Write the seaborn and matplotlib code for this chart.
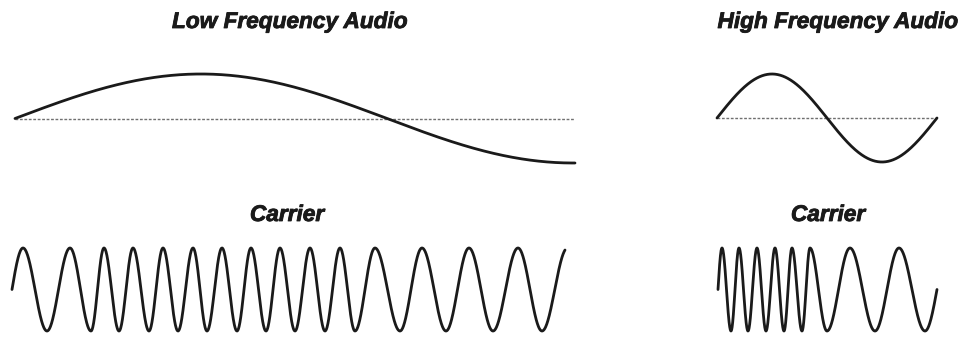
import numpy as np
import pandas as pd
import seaborn as sns
import matplotlib
matplotlib.use("Agg")
import matplotlib.pyplot as plt
import matplotlib.patheffects as pe

# audio signals: one sine each, time in arbitrary units
low_audio_period = 744.0
low_audio_span = 560.0
high_audio_period = 220.0
high_audio_span = 220.0

# carrier extrema times (peak, trough, peak, ...)
left_carrier_extrema = [11, 35, 58, 79, 92, 107, 121, 137, 151, 166, 181, 195, 210, 225, 239,
                        254, 268, 283, 298, 313, 328, 343, 363, 388, 410, 434, 457, 481, 506, 530]
left_carrier_end = 553
left_carrier_end_phase = 0.9   # fraction of half cycle after last extremum

right_carrier_extrema = [4, 13, 21, 30, 39, 48, 57, 66, 74, 84, 92, 109, 132, 157, 181, 207]
right_carrier_end = 219
right_carrier_end_phase = 0.5

titles = ["Low Frequency Audio", "High Frequency Audio", "Carrier", "Carrier"]

W, H = 968, 339
sns.set_style("white")
plt.rcParams["font.family"] = ["Liberation Sans", "DejaVu Sans"]

fig = plt.figure(figsize=(W / 100, H / 100), dpi=100)


def px_axes(x0, x1, ytop, ybot, xlim, ylim=(-1, 1)):
    ax = fig.add_axes([x0 / W, 1 - ybot / H, (x1 - x0) / W, (ybot - ytop) / H])
    ax.set_xlim(*xlim)
    ax.set_ylim(*ylim)
    ax.axis("off")
    return ax


def audio_frame(period, span):
    t = np.linspace(0, span, 600)
    return pd.DataFrame({"t": t, "v": np.sin(2 * np.pi * t / period)})


def carrier_frame(extrema, end, end_phase):
    # phase keyed to extrema: start on the midline rising, peaks at even multiples of pi
    tk = [0] + list(extrema) + [end]
    pk = [-np.pi / 2] + [np.pi * i for i in range(len(extrema))] + [np.pi * (len(extrema) - 1 + end_phase)]
    t = np.linspace(0, end, 2000)
    ph = np.interp(t, tk, pk)
    return pd.DataFrame({"t": t, "v": np.cos(ph)})


line_kw = dict(color="#1a1a1a", linewidth=2.0, clip_on=False)
base_kw = dict(color="#707070", linewidth=1.0, linestyle=(0, (2.0, 1.2)))

# top left: low frequency audio
ax1 = px_axes(15, 575, 74, 163, (0, low_audio_span))
ax1.plot([0, 562], [0, 0], **base_kw)
sns.lineplot(data=audio_frame(low_audio_period, low_audio_span), x="t", y="v", ax=ax1, **line_kw)
ax1.axis("off")

# top right: high frequency audio
ax2 = px_axes(717, 937, 74, 162, (0, high_audio_span))
ax2.plot([0, 224], [0, 0], **base_kw)
sns.lineplot(data=audio_frame(high_audio_period, high_audio_span), x="t", y="v", ax=ax2, **line_kw)
ax2.axis("off")

# bottom left: carrier
ax3 = px_axes(12, 565, 248, 331, (0, left_carrier_end))
sns.lineplot(data=carrier_frame(left_carrier_extrema, left_carrier_end, left_carrier_end_phase),
             x="t", y="v", ax=ax3, **line_kw)
ax3.axis("off")

# bottom right: carrier
ax4 = px_axes(718, 937, 248, 331, (0, right_carrier_end))
sns.lineplot(data=carrier_frame(right_carrier_extrema, right_carrier_end, right_carrier_end_phase),
             x="t", y="v", ax=ax4, **line_kw)
ax4.axis("off")

title_kw = dict(fontsize=16.3, fontweight="bold", fontstyle="italic", color="#1a1a1a",
                ha="center", va="baseline",
                path_effects=[pe.withStroke(linewidth=0.6, foreground="#1a1a1a")])
fig.text(290 / W, 1 - 28 / H, titles[0], **title_kw)
fig.text(838 / W, 1 - 28 / H, titles[1], **title_kw)
fig.text(287 / W, 1 - 221 / H, titles[2], **title_kw)
fig.text(828 / W, 1 - 221 / H, titles[3], **title_kw)

fig.savefig("out.png", dpi=100, facecolor="white")
